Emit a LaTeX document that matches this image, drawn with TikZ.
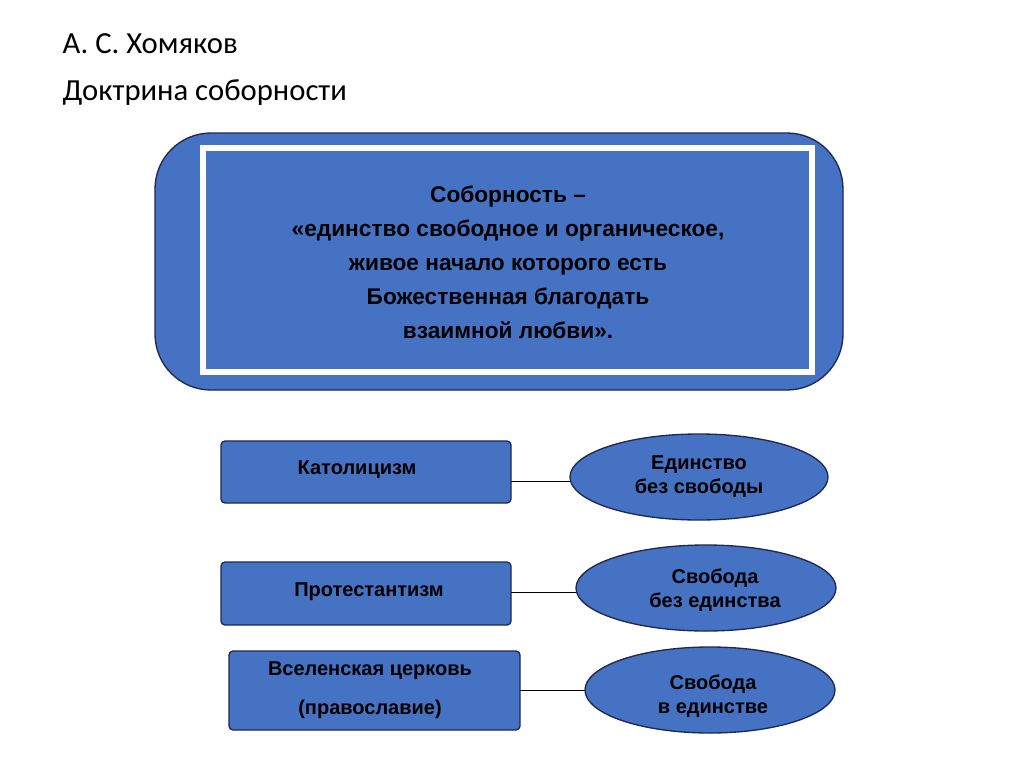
\documentclass[tikz,border=0pt]{standalone}
\usepackage{fontspec}
\setmainfont{Liberation Sans}
\newfontfamily\titlefont{Carlito}
\begin{document}
\begin{tikzpicture}[x=0.75pt,y=-0.75pt,
  bluefill/.style={fill={rgb,255:red,70;green,114;blue,196}, draw={rgb,255:red,30;green,40;blue,80}, line width=1pt},
  lbl/.style={font=\bfseries\fontsize{15}{18}\selectfont, align=center, text=black},
  conn/.style={draw=black, line width=0.6pt}]
\path[use as bounding box, fill=white] (0,0) rectangle (1024,767);
\node[anchor=west, font=\titlefont\fontsize{23}{27}\selectfont] (t1) at (58,44) {А. С. Хомяков};
\node[anchor=west, font=\titlefont\fontsize{23}{27}\selectfont] (t2) at (58,93) {Доктрина соборности};
\draw[bluefill, rounded corners=42] (155,133) rectangle (843,390);
\draw[white, double=white, double distance=2pt, line width=1pt] (203,148) rectangle (812,372);
\node[lbl, font=\bfseries\fontsize{17}{25.5}\selectfont] (main) at (508,262) {Соборность –\\«единство свободное и органическое,\\живое начало которого есть\\Божественная благодать\\взаимной любви».};
\draw[bluefill, rounded corners=3] (221,441) rectangle (511,503);
\node[lbl] (b1) at (357,470) {Католицизм};
\draw[bluefill, rounded corners=3] (221,562) rectangle (511,625);
\node[lbl] (b2) at (369,592) {Протестантизм};
\draw[bluefill, rounded corners=3] (229,651) rectangle (520,730);
\node[lbl, align=center, font=\bfseries\fontsize{15}{29}\selectfont] (b3) at (370,690) {Вселенская церковь\\(православие)};
\draw[bluefill] (699,477) ellipse [x radius=129, y radius=43];
\node[lbl] (e1) at (699,477) {Единство\\без свободы};
\draw[bluefill] (706,588) ellipse [x radius=130, y radius=43];
\node[lbl] (e2) at (715,590) {Свобода\\без единства};
\draw[bluefill] (710,690) ellipse [x radius=125, y radius=43];
\node[lbl] (e3) at (713,696) {Свобода\\в единстве};
\coordinate (c1a) at (511,481); \coordinate (c1b) at (570,481);
\coordinate (c2a) at (511,592); \coordinate (c2b) at (576,592);
\coordinate (c3a) at (520,690); \coordinate (c3b) at (585,690);
\draw[conn] (c1a) -- (c1b);
\draw[conn] (c2a) -- (c2b);
\draw[conn] (c3a) -- (c3b);
\end{tikzpicture}
\end{document}
